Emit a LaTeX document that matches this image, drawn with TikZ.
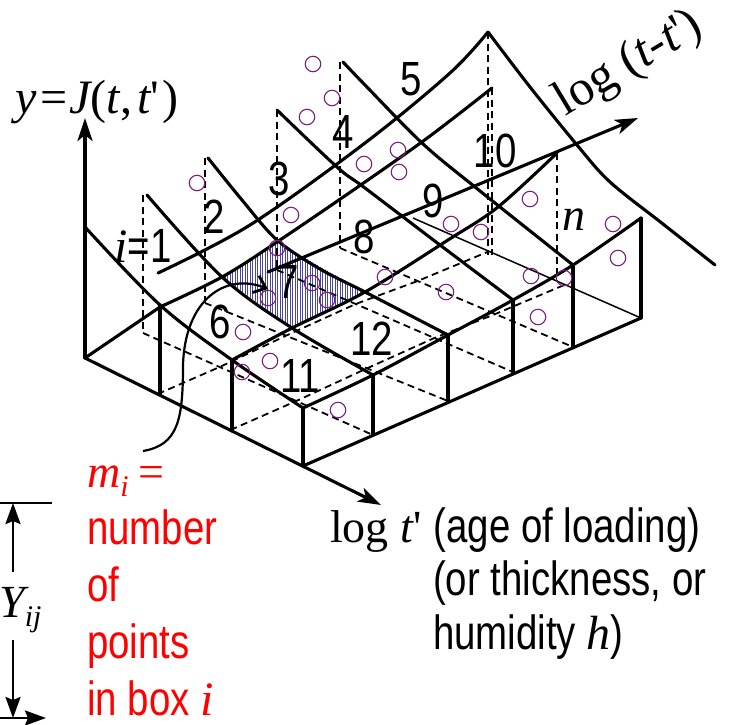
\documentclass[tikz,border=0pt]{standalone}
\usepackage{fontspec}
\setmainfont{Liberation Sans}[FakeStretch=0.8]
\newfontfamily\tms{Liberation Serif}
\usetikzlibrary{arrows.meta, calc}

\definecolor{ptcol}{RGB}{125,30,125}
\definecolor{hatchcol}{RGB}{70,70,170}

\newcommand{\tv}[1]{{\tms\itshape #1}}
\newcommand{\sfbig}{\normalfont\fontsize{48}{56}\selectfont}
\newcommand{\rmbig}{\fontsize{46}{54}\selectfont\tms}
\newcommand{\subsz}{\fontsize{30}{30}\selectfont}

\begin{document}
\begin{tikzpicture}[x=1pt, y=-1pt,
    surf/.style={line width=3.1pt, line join=round, line cap=round},
    hidden/.style={line width=1.8pt, dash pattern=on 7pt off 4.5pt},
    thinedge/.style={line width=1.5pt},
    axisarr/.style={surf, -{Stealth[length=23pt, width=15pt, inset=6pt]}},
    dimarr/.style={line width=2.6pt, -{Stealth[length=21pt, width=15pt, inset=3pt]}},
    datapt/.style={circle, draw=ptcol, line width=1.1pt, minimum size=15.5pt, inner sep=0pt},
    cellno/.style={font=\sfbig, anchor=base, inner sep=0pt},
    txt/.style={anchor=base west, inner sep=0pt}]
    \useasboundingbox (0,0) rectangle (730,724);

    \coordinate (b0) at (85,358);  \coordinate (f0) at (303,466);
    \coordinate (b1) at (143,333); \coordinate (f1) at (373,435);
    \coordinate (b2) at (205,303); \coordinate (f2) at (448,401);
    \coordinate (b3) at (277,270); \coordinate (f3) at (513,372);
    \coordinate (b4) at (340,248); \coordinate (f4) at (573,347);
    \coordinate (b5) at (413,218); \coordinate (f5) at (641,318);

    \begin{scope}
        \clip (222,277) -- (277,242) -- (365,292) -- (292,328) -- cycle;
        \foreach \x in {220,222.5,...,368}
            \draw[hatchcol, line width=0.9pt] (\x,238) -- (\x,332);
    \end{scope}

    \foreach \c in {1,...,4}
        \draw[hidden] (b\c) -- (f\c);
    \foreach \r in {1,2}
        \draw[hidden] ($(b0)!\r/3!(f0)$) \foreach \c in {1,...,5} { -- ($(b\c)!\r/3!(f\c)$) };
    \foreach \x/\ya/\yb in {143/195/333, 205/158/303, 277/110/270, 340/62/248, 488/32/255, 492/88/255, 557/153/280}
        \draw[hidden] (\x,\ya) -- (\x,\yb);
    \draw[thinedge] (b5) -- (f5);

    \foreach \x/\ya/\yb in {160/305/395, 232/360/431, 303/408/466, 373/375/435, 448/335/401, 513/300/372, 573/265/347, 641/218/318}
        \draw[surf] (\x,\ya) -- (\x,\yb);
    \draw[surf] (f0) -- (f5);

    \coordinate (ytip) at (85,118);
    \coordinate (ttip) at (381,505);
    \coordinate (ltail) at (268,272);
    \coordinate (ltip) at (638,118);
    \draw[axisarr] (b0) -- (ytip);
    \draw[axisarr] (b0) -- (ttip);
    \draw[axisarr] (ltail) -- (ltip);
    \draw[surf] (b0) -- (160,307);

    \draw[surf] plot[smooth, tension=0.55] coordinates {(85,227) (160,305) (232,360) (303,408)};
    \draw[surf] plot[smooth, tension=0.55] coordinates {(303,408) (373,375) (448,335) (513,300) (573,265) (641,218)};
    \draw[surf] plot[smooth, tension=0.55] coordinates {(158,273) (250,225) (365,143) (450,73) (488,32)};
    \draw[surf] plot[smooth, tension=0.55] coordinates {(160,307) (222,277) (277,242) (365,182) (430,136) (492,88)};
    \draw[surf] plot[smooth, tension=0.55] coordinates {(232,360) (292,328) (365,292) (448,240) (498,207) (557,153)};
    \draw[surf] plot[smooth, tension=0.55] coordinates {(147,195) (222,277) (292,328) (373,375)};
    \draw[surf] plot[smooth, tension=0.55] coordinates {(208,158) (242,200) (277,240) (320,269) (365,292) (448,335)};
    \draw[surf] plot[smooth, tension=0.55] coordinates {(277,110) (337,167) (365,188) (440,245) (513,300)};
    \draw[surf] plot[smooth, tension=0.55] coordinates {(343,62) (365,85) (422,143) (475,187) (573,265)};
    \draw[surf] plot[smooth, tension=0.55] coordinates {(488,32) (530,87) (577,145) (610,182) (663,224) (715,265)};

    \foreach \x/\y [count=\k] in {313/64, 332/98, 307/117, 197/183, 291/215, 364/164, 398/150, 399/172,
        277/248, 312/283, 327/300, 268/298, 243/332, 270/361, 242/372, 338/410, 385/277, 446/292,
        451/224, 481/232, 530/199, 531/276, 564/278, 538/317, 613/224, 618/258}
        \node[datapt] (p\k) at (\x,\y) {};

    \node[cellno] (c1) at (143,262) {\tv{i}=1};
    \node[cellno] (c2) at (214,233) {2};
    \node[cellno] (c3) at (279,195) {3};
    \node[cellno] (c4) at (343,148) {4};
    \node[cellno] (c5) at (411,95) {5};
    \node[cellno] (c6) at (220,338) {6};
    \node[cellno] (c7) at (288,298) {7};
    \node[cellno] (c8) at (364,253) {8};
    \node[cellno] (c9) at (433,217) {9};
    \node[cellno] (c10) at (495,167) {10};
    \node[cellno] (c11) at (300,392) {11};
    \node[cellno] (c12) at (372,355) {12};
    \node[cellno] (cn) at (574,230) {\rmbig\itshape n};

    \node[txt] (ylab) at (15,113) {\fontsize{48}{56}\selectfont\tms\tv{y}\hspace{4pt}=\hspace{2pt}\tv{J}(\tv{t},\hspace{5pt}\tv{t}'\hspace{3pt})};
    \node[txt, rotate=31] (llab) at (565,117) {\fontsize{50}{56}\selectfont\tms log (\tv{t}-\tv{t}')};
    \node[txt] (age1) at (330,542) {\rmbig log \tv{t}'\hspace{12pt}\sfbig(age of loading)};
    \node[txt] (age2) at (433,595) {\sfbig(or thickness, or};
    \node[txt] (age3) at (433,649) {\sfbig humidity \tv{h})};

    \node[txt, red] (mlab) at (87,487) {\rmbig\tv{m}\raisebox{-9pt}{\subsz\tv{i}}\hspace{10pt}=};
    \node[txt, red] (red2) at (87,544) {\sfbig number};
    \node[txt, red] (red3) at (87,601) {\sfbig of};
    \node[txt, red] (red4) at (87,658) {\sfbig points};
    \node[txt, red] (red5) at (87,715) {\sfbig in box \tv{i}};

    \coordinate (mtail) at (143,451);
    \coordinate (mhead) at (268,289);
    \draw[line width=2.2pt, -{Straight Barb[length=11pt, width=18pt, line width=2.8pt]}]
        (mtail) .. controls (178,445) and (183,420) .. (183,365) .. controls (185,300) and (225,272) .. (mhead);

    \node[txt] (yij) at (-1,617) {\rmbig\tv{Y}\raisebox{-9pt}{\subsz\tv{ij}}};
    \coordinate (tickl) at (0,503);  \coordinate (tickr) at (52,503);
    \coordinate (dtop) at (13,503);  \coordinate (dup) at (13,572);
    \coordinate (ddn) at (13,640);   \coordinate (dbot) at (13,718);
    \coordinate (hl) at (0,718);     \coordinate (hr) at (46,718);
    \draw[line width=2.6pt] (tickl) -- (tickr);
    \draw[dimarr] (dup) -- (dtop);
    \draw[dimarr] (ddn) -- (dbot);
    \draw[dimarr] (hl) -- (hr);
\end{tikzpicture}
\end{document}
